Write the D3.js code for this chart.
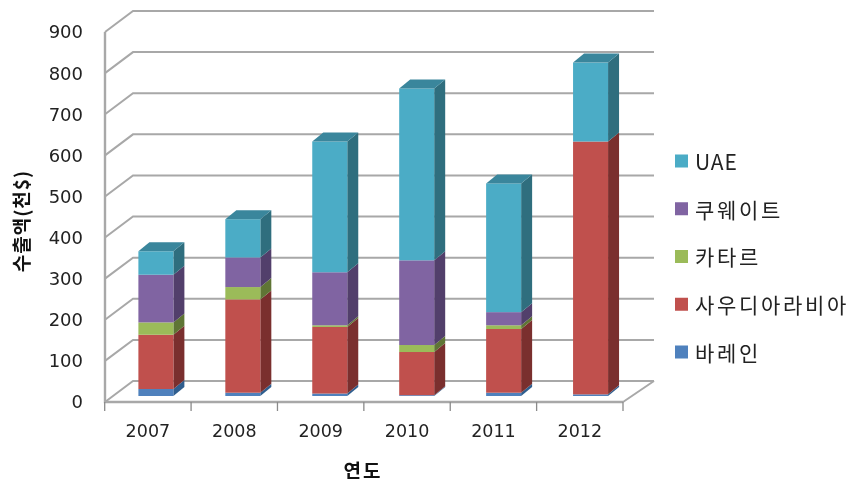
<!DOCTYPE html>
<html><head><meta charset="utf-8">
<script src="https://cdnjs.cloudflare.com/ajax/libs/d3/7.8.5/d3.min.js"></script>
<style>html,body{margin:0;padding:0;background:#fff}svg{display:block;filter:blur(0.4px)}</style></head>
<body><svg id="c" width="852" height="484"></svg>
<script>
const years=["2007","2008","2009","2010","2011","2012"];
const seriesNames=["바레인","사우디아라비아","카타르","쿠웨이트","UAE"];
const bahrain=[17,8,6,2,8,4];
const saudi=[132,227,162,105,155,615];
const qatar=[30,30,4,17,9,0];
const kuwait=[116,72,129,206,32,0];
const uae=[57,93,318,418,313,192];
const frontColors=["#4f81bd","#c0504d","#9bbb59","#8064a2","#4bacc6"];
const sideColors=["#2f5e8e","#7a2f2e","#5f7535","#523f6b","#2f6e7e"];
const topColors=["#3e6a9c","#96403e","#7a9446","#66508a","#3a869c"];
const yTicks=[0,100,200,300,400,500,600,700,800,900];
const values=[bahrain,saudi,qatar,kuwait,uae];

const svg=d3.select("#c");
const font="'DejaVu Sans',sans-serif", kfont="'Noto Sans CJK KR',sans-serif";
const x=d3.scaleBand().domain(years).range([104.7,623]);
const y=d3.scaleLinear().domain([0,900]).range([402,32]);
const wallDx=28, wallDy=21, gridRight=654;
const barW=35, barShift=8, barSkew=0.55, barLift=6, barDx=11, barDy=9;
const grid="#a8a8a8";

const g=svg.append("g");
g.selectAll("path.grid").data(yTicks).join("path").attr("class","grid")
 .attr("d",v=>`M105,${y(v)}L${105+wallDx},${y(v)-wallDy}L${gridRight},${y(v)-wallDy}`)
 .attr("fill","none").attr("stroke",grid).attr("stroke-width",2);
g.append("path").attr("d",`M623,${y(0)}L${gridRight},${y(0)-wallDy}`).attr("fill","none").attr("stroke",grid).attr("stroke-width",2);
g.append("path").attr("d",`M105,${y(900)}L105,${y(0)}L623,${y(0)}`).attr("fill","none").attr("stroke",grid).attr("stroke-width",2.4);
const tickXs=years.map(d=>x(d)).concat([623]);
g.selectAll("line.t").data(tickXs).join("line").attr("class","t")
 .attr("x1",d=>d).attr("x2",d=>d).attr("y1",y(0)).attr("y2",y(0)+9)
 .attr("stroke","#8a8a8a").attr("stroke-width",1.3);

years.forEach((yr,i)=>{
  let acc=0;
  const bx=x(yr)+x.bandwidth()/2-barW/2+barShift+barSkew*i;
  const base=y(0)-barLift;
  const py=v=>base-(y(0)-y(v));
  values.forEach((ser,s)=>{
    const v=ser[i]; if(!v) return;
    const y0=py(acc), y1=py(acc+v);
    acc+=v;
    const b=g.append("g");
    b.append("path").attr("d",`M${bx+barW},${y0}L${bx+barW+barDx},${y0-barDy}L${bx+barW+barDx},${y1-barDy}L${bx+barW},${y1}Z`).attr("fill",sideColors[s]);
    b.append("rect").attr("x",bx).attr("y",y1).attr("width",barW).attr("height",y0-y1).attr("fill",frontColors[s]);
  });
  const topY=py(acc);
  const tops=values.map(a=>a[i]); let last=4; while(!tops[last])last--;
  g.append("path").attr("d",`M${bx},${topY}L${bx+barDx},${topY-barDy}L${bx+barW+barDx},${topY-barDy}L${bx+barW},${topY}Z`).attr("fill",topColors[last]);
});

svg.selectAll("text.y").data(yTicks).join("text").attr("class","y")
 .attr("x",83).attr("y",v=>y(v)).attr("dy","0.36em").attr("text-anchor","end")
 .attr("font-family",font).attr("font-size",18).attr("fill","#222").text(v=>v);
svg.selectAll("text.x").data(years).join("text").attr("class","x")
 .attr("x",d=>x(d)+x.bandwidth()/2).attr("y",437).attr("text-anchor","middle")
 .attr("font-family",font).attr("font-size",17.5).attr("fill","#222").text(d=>d);
svg.append("text").attr("transform","translate(29,221) rotate(-90)").attr("text-anchor","middle")
 .attr("font-family",kfont).attr("font-size",19).attr("letter-spacing",1).attr("font-weight",700).attr("fill","#111").text("수출액(천$)");
svg.append("text").attr("x",363).attr("y",478).attr("text-anchor","middle")
 .attr("font-family",kfont).attr("font-size",19).attr("letter-spacing",2).attr("font-weight",700).attr("fill","#111").text("연도");
const legY=d3.scalePoint().domain(seriesNames).range([352,161]);
const lg=svg.selectAll("g.l").data(seriesNames).join("g").attr("class","l")
 .attr("transform",d=>`translate(675,${legY(d)})`);
lg.append("rect").attr("y",-6.5).attr("width",13).attr("height",13).attr("fill",(d,i)=>frontColors[i]);
lg.append("text").attr("x",20).attr("y",0).attr("dy","0.42em")
 .attr("font-family",kfont).attr("font-size",21).attr("letter-spacing",d=>d==="UAE"?1:2.7).attr("fill","#222").text(d=>d);
</script></body></html>
